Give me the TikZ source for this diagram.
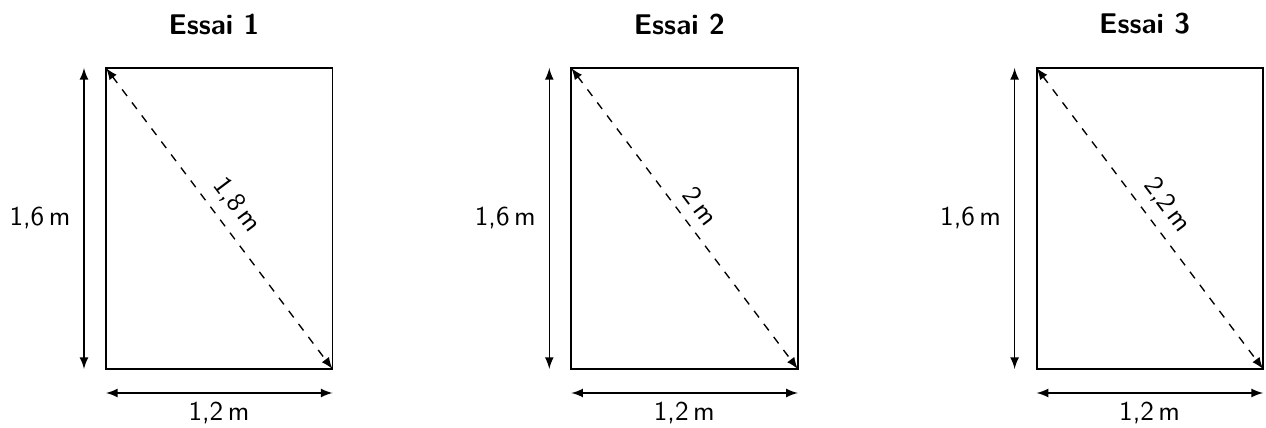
\documentclass[tikz,border=0pt]{standalone}
\usetikzlibrary{arrows}
\begin{document}
\begin{tikzpicture}[x=0.368pt,y=-0.368pt,font=\sffamily,>=latex,
  rectline/.style={line width=0.7pt},
  dimline/.style={line width=0.5pt,<->},
  diagline/.style={line width=0.5pt,<->,dashed},
  title/.style={font=\sffamily\bfseries\fontsize{10.5}{12}\selectfont}]
\useasboundingbox (0,0) rectangle (1266,428);
\foreach \k/\d in {0/{1,8\,m},1/{2\,m},2/{2,2\,m}} {
  \begin{scope}[shift={(\k*465.3,0)}]
    \coordinate (tl\k) at (106,68);
    \coordinate (tr\k) at (332.5,68);
    \coordinate (br\k) at (332.5,369);
    \coordinate (bl\k) at (106,369);
    \coordinate (vt\k) at (84,68);
    \coordinate (vb\k) at (84,369);
    \coordinate (hl\k) at (106,393);
    \coordinate (hr\k) at (332.5,393);
    \draw[rectline] (tl\k) -- (tr\k) -- (br\k) -- (bl\k) -- cycle;
    \draw[diagline] (tl\k) -- node[sloped,above=0.5pt] (d\k) {\d} (br\k);
    \draw[dimline] (vt\k) -- (vb\k);
    \draw[dimline] (hl\k) -- (hr\k);
    \node (h\k) at (40,218) {1,6\,m};
    \node (w\k) at (219,413) {1,2\,m};
    \node[title] (t\k) at (214,24) {Essai \pgfmathparse{int(\k+1)}\pgfmathresult};
  \end{scope}
}
\end{tikzpicture}
\end{document}
